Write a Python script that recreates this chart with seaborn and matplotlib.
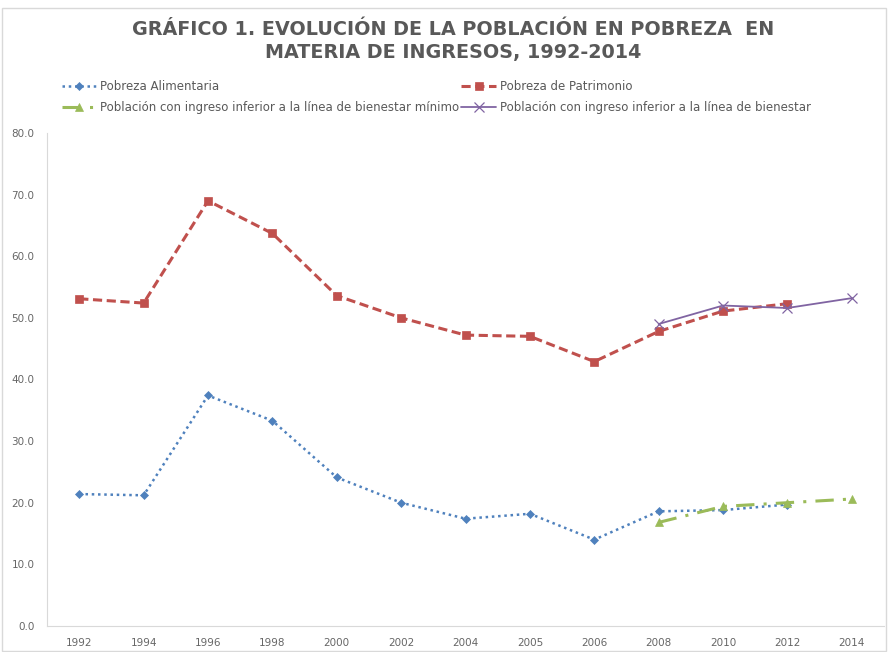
import matplotlib
matplotlib.use("Agg")
import matplotlib.pyplot as plt
import seaborn as sns
import pandas as pd
import numpy as np

years = ["1992", "1994", "1996", "1998", "2000", "2002", "2004", "2005", "2006", "2008", "2010", "2012", "2014"]
alimentaria = [21.4, 21.2, 37.4, 33.3, 24.1, 20.0, 17.4, 18.2, 14.0, 18.6, 18.8, 19.7, None]
patrimonio = [53.1, 52.4, 69.0, 63.7, 53.6, 50.0, 47.2, 47.0, 42.9, 47.8, 51.1, 52.3, None]
bien_min = [None, None, None, None, None, None, None, None, None, 16.8, 19.4, 20.0, 20.6]
bienestar = [None, None, None, None, None, None, None, None, None, 49.0, 52.0, 51.6, 53.2]

names = ["Pobreza Alimentaria", "Pobreza de Patrimonio",
         "Población con ingreso inferior a la línea de bienestar mínimo",
         "Población con ingreso inferior a la línea de bienestar"]
series = [alimentaria, patrimonio, bien_min, bienestar]

colors = ["#4F81BD", "#C0504D", "#9BBB59", "#8064A2"]
dash_styles = [(1, 1.5), (3, 1.5), (6, 3, 1, 3), None]
marker_list = ["D", "s", "^", "x"]
msizes = [4.5, 5.5, 6, 7]
lwidths = [1.8, 2.2, 2.2, 1.3]

sns.set_style("white")
plt.rcParams['font.family'] = ['DejaVu Sans']

fig = plt.figure(figsize=(8.88, 6.52), dpi=100)
ax = fig.add_axes([0.053, 0.04, 0.9425, 0.756])

handles = {}
for n, vals, c, d, m, ms, lw in zip(names, series, colors, dash_styles, marker_list, msizes, lwidths):
    sub = pd.DataFrame({"pos": [i for i, v in enumerate(vals) if v is not None],
                        "valor": [v for v in vals if v is not None]})
    kw = dict(color=c, marker=m, markersize=ms, linewidth=lw, label=n,
              markeredgecolor=c, markeredgewidth=0.9 if m == "x" else 0.5)
    sns.lineplot(data=sub, x="pos", y="valor", ax=ax, **kw)
    line = ax.get_lines()[-1]
    if d is not None:
        line.set_dashes(d)
    handles[n] = line

ax.set_xlim(-0.5, len(years) - 0.5)
ax.set_ylim(0, 80)
ax.set_xticks(range(len(years)))
ax.set_xticklabels(years)
ax.set_yticks(np.arange(0, 81, 10))
ax.set_yticklabels([f"{v:.1f}" for v in np.arange(0, 81, 10)])
ax.tick_params(axis="both", labelsize=7.5, colors="#666666", length=0, pad=9)
ax.set_xlabel("")
ax.set_ylabel("")
for s in ["top", "right"]:
    ax.spines[s].set_visible(False)
for s in ["left", "bottom"]:
    ax.spines[s].set_color("#D9D9D9")
    ax.spines[s].set_linewidth(0.8)

if ax.get_legend() is not None:
    ax.get_legend().remove()
order = [names[0], names[2], names[1], names[3]]
fig.legend([handles[n] for n in order], order, ncol=2, loc="upper left",
           bbox_to_anchor=(0.064, 0.885), frameon=False, fontsize=8.5,
           labelcolor="#595959", handlelength=2.9, handletextpad=0.35,
           columnspacing=0.2, labelspacing=0.7, borderaxespad=0)

fig.text(0.51, 0.97, "GRÁFICO 1. EVOLUCIÓN DE LA POBLACIÓN EN POBREZA  EN\nMATERIA DE INGRESOS, 1992-2014",
         ha="center", va="top", fontsize=13.8, fontweight="bold", color="#595959",
         linespacing=1.3)

fig.patches.append(plt.Rectangle((0.002, 0.002), 0.996, 0.986, transform=fig.transFigure,
                                 fill=False, edgecolor="#D9D9D9", linewidth=1))

fig.savefig("out.png", dpi=100)
